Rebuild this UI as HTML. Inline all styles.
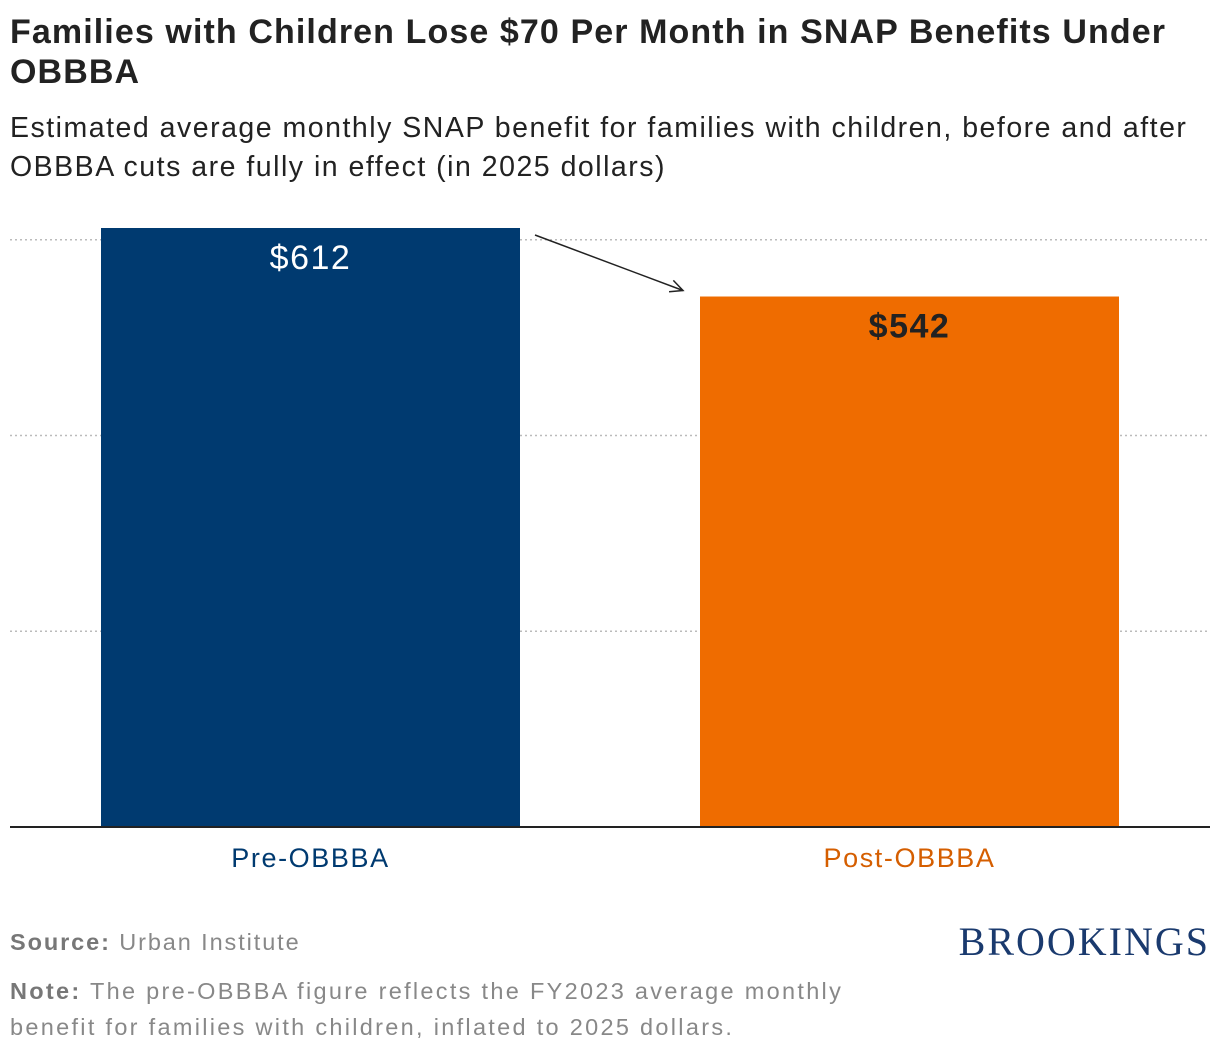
<!DOCTYPE html>
<html><head><meta charset="utf-8"><style>
body{margin:0;width:1220px;height:1056px;background:#fff;font-family:"Liberation Sans",sans-serif;position:relative;overflow:hidden}
.t{position:absolute;left:10px;top:12px;font-size:34px;font-weight:bold;color:#222;line-height:40px;width:1200px;letter-spacing:1.1px}
.s{position:absolute;left:10px;top:109px;font-size:28.5px;color:#222;line-height:39px;width:1200px;letter-spacing:1.5px}
.f{position:absolute;left:10px;font-size:23.5px;color:#888;letter-spacing:1.9px}
.f b{color:#777}
</style></head><body>
<div class="t">Families with Children Lose $70 Per Month in SNAP Benefits Under OBBBA</div>
<div class="s">Estimated average monthly SNAP benefit for families with children, before and after OBBBA cuts are fully in effect (in 2025 dollars)</div>
<svg id="c" width="1220" height="1056" style="position:absolute;left:0;top:0"></svg>
<div class="f" style="top:929px"><b>Source:</b> Urban Institute</div>
<div class="f" style="top:973px;line-height:36px;width:870px;letter-spacing:2.3px"><b>Note:</b> The pre-OBBBA figure reflects the FY2023 average monthly benefit for families with children, inflated to 2025 dollars.</div>
<div style="position:absolute;right:10px;top:918px;font-family:'Liberation Serif',serif;font-size:40px;color:#1a3a6e;letter-spacing:2px">BROOKINGS</div>
<script>
const categories=["Pre-OBBBA","Post-OBBBA"];
const values=[612,542];
const labels=["$612","$542"];
const gridTicks=[200,400,600];
const colors=["#003a70","#ef6c00"];
const labelColors=["#fff","#222"];
const axisColors=["#003a70","#d55e00"];
const NS="http://www.w3.org/2000/svg";
const svg=document.getElementById('c');
const base=827,k=599/612;
const y=v=>base-v*k;
const xs=i=>101+i*599, bw=419;
function mk(t,a){const e=document.createElementNS(NS,t);for(const n in a)e.setAttribute(n,a[n]);svg.appendChild(e);return e;}
gridTicks.forEach(v=>{const l=mk('line',{x1:10,x2:1210,y1:y(v),y2:y(v),stroke:'#bbb','stroke-width':1.5,'stroke-dasharray':'2,3'});

});
values.forEach((v,i)=>{
const r=mk('rect',{x:xs(i),y:y(v),width:bw,height:base-y(v),fill:colors[i]});


const t=mk('text',{x:xs(i)+bw/2,y:y(v)+41,'text-anchor':'middle','font-size':34,fill:labelColors[i],'font-weight':i?'bold':'normal','letter-spacing':1.5});
t.textContent=labels[i];


const c=mk('text',{x:xs(i)+bw/2,y:867,'text-anchor':'middle','font-size':27,fill:axisColors[i],'letter-spacing':1.6});
c.textContent=categories[i];


});
const b=mk('line',{x1:10,x2:1210,y1:base,y2:base,stroke:'#222','stroke-width':2});


const ax1=xs(0)+bw+15, ay1=y(values[0])+7, ax2=xs(1)-17, ay2=y(values[1])-6;
const ar=mk('line',{x1:ax1,y1:ay1,x2:ax2,y2:ay2,stroke:'#222','stroke-width':1.5});


const ang=Math.atan2(ay2-ay1,ax2-ax1),L=14;
const h=mk('polyline',{points:`${ax2-L*Math.cos(ang-0.45)},${ay2-L*Math.sin(ang-0.45)} ${ax2},${ay2} ${ax2-L*Math.cos(ang+0.45)},${ay2-L*Math.sin(ang+0.45)}`,fill:'none',stroke:'#222','stroke-width':1.5});


</script>
</body></html>
